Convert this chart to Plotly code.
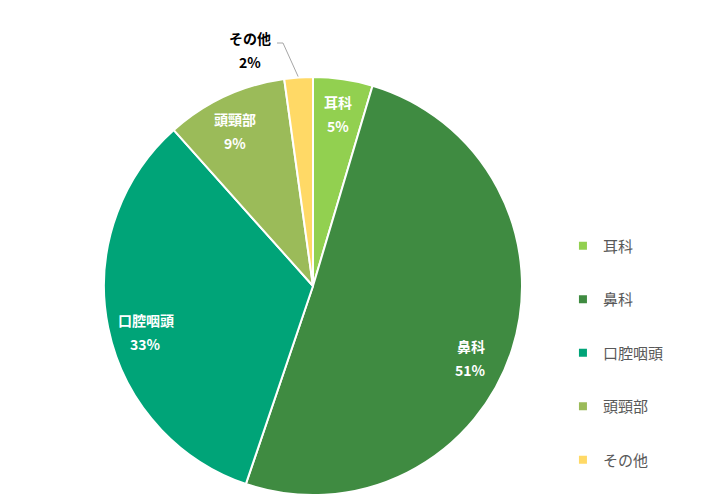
import math
import plotly.graph_objects as go

# 診療科別の割合
labels = ['耳科', '鼻科', '口腔咽頭', '頭頸部', 'その他']
values = [4.6, 50.6, 33.2, 9.4, 2.2]
colors = ['#92D050', '#3F8B41', '#00A478', '#9BBB59', '#FFD966']

W, H = 709, 503
cx, cy, R = 313, 286, 209  # pie centre / radius in px (cy from top)
FONT = 'Noto Sans CJK JP'
# small angular nudges (deg) so the labels sit like Excel's "best fit"
nudge = {'耳科': 0, '鼻科': 7, '口腔咽頭': -4, '頭頸部': -2}

fig = go.Figure()
fig.add_trace(go.Pie(
    labels=labels, values=values, sort=False, direction='clockwise',
    rotation=0, textinfo='none', hoverinfo='skip',
    marker=dict(colors=colors, line=dict(color='white', width=2)),
    domain=dict(x=[(cx - R) / W, (cx + R) / W],
                y=[(H - cy - R) / H, (H - cy + R) / H]),
    showlegend=False,
))

# legend built from dummy traces so the item spacing can be set
for lab, col in zip(labels, colors):
    fig.add_trace(go.Scatter(
        x=[None], y=[None], mode='markers', name=lab, legendgroup=lab,
        marker=dict(symbol='square', size=8, color=col), hoverinfo='skip',
    ))

# slice labels as annotations on a pixel-sized hidden axis
total = sum(values)
start = 0.0
for lab, v in zip(labels, values):
    mid = (start + v / 2) / total * 2 * math.pi
    start += v
    pct = '<b>%d%%</b>' % round(v / total * 100)
    if lab == 'その他':
        ex = cx + R * math.sin(mid)
        ey = cy - R * math.cos(mid)
        fig.add_trace(go.Scatter(
            x=[277, 283, ex], y=[43, 43, ey], mode='lines',
            line=dict(color='#A6A6A6', width=1), showlegend=False, hoverinfo='skip',
        ))
        x, y = 250, 50
        col = '#000000'
    else:
        a = mid + math.radians(nudge[lab])
        r = 0.83 * R
        x = cx + r * math.sin(a)
        y = cy - r * math.cos(a)
        col = 'white'
    for t, dy in (('<b>%s</b>' % lab, -12), (pct, 12)):
        fig.add_annotation(
            x=x, y=y + dy, xref='x', yref='y', xanchor='center', yanchor='middle',
            text=t, showarrow=False, font=dict(family=FONT, size=14, color=col),
        )

fig.update_layout(
    width=W, height=H,
    margin=dict(l=0, r=0, t=0, b=0),
    paper_bgcolor='white', plot_bgcolor='rgba(0,0,0,0)',
    xaxis=dict(visible=False, range=[0, W], fixedrange=True),
    yaxis=dict(visible=False, range=[H, 0], fixedrange=True),
    font=dict(family=FONT),
    hovermode=False,
    legend=dict(
        x=0.794, y=0.298, xanchor='left', yanchor='middle',
        font=dict(family=FONT, size=15, color='#595959'),
        tracegroupgap=31, itemwidth=30,
    ),
)

fig.write_html('out.html', config={'displayModeBar': False},
               post_script="document.body.style.margin='0';")
